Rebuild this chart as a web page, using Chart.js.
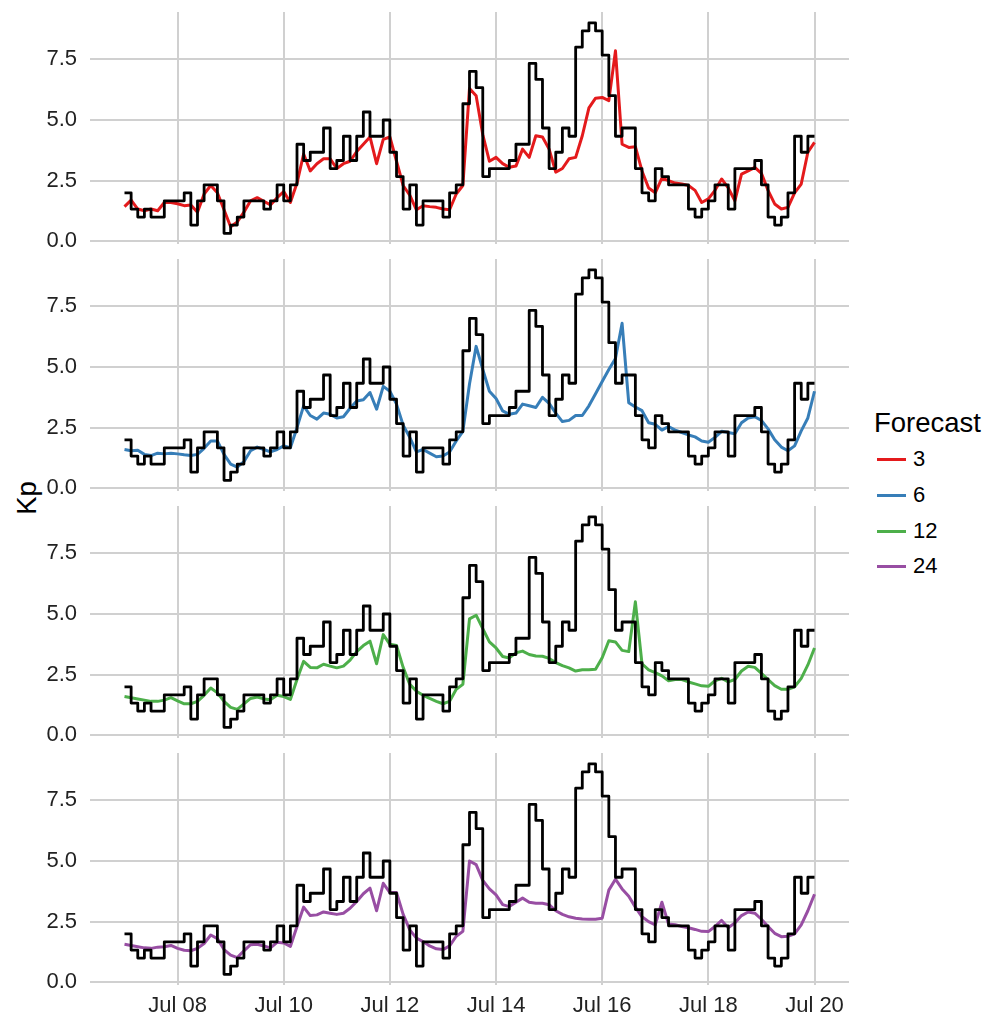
<!DOCTYPE html>
<html>
<head>
<meta charset="utf-8">
<title>Kp forecasts</title>
<script src="https://cdn.jsdelivr.net/npm/chart.js@4.4.0/dist/chart.umd.min.js"></script>
<style>
    body { margin: 0; background: #fff; font-family: 'Liberation Sans', Helvetica, Arial, sans-serif; }
    #page { position: relative; width: 990px; height: 1018px; overflow: hidden; }
    #page canvas { position: absolute; left: 0; }
    #ytitle {
        position: absolute; left: 27px; top: 498px;
        font-size: 27.5px; line-height: 1; color: #000;
        transform: translate(-50%, -50%) rotate(-90deg);
        white-space: nowrap;
    }
    #legend { position: absolute; left: 874px; top: 0; }
    .legend-title { position: absolute; left: 0; top: 409px; font-size: 27.5px; line-height: 1; white-space: nowrap; }
    .legend-key { position: absolute; left: 3px; width: 29px; height: 3px; }
    .legend-label { position: absolute; left: 39px; font-size: 22px; line-height: 1; white-space: nowrap; }
</style>
</head>
<body>
<div id="page">
    <div id="ytitle">Kp</div>
    <div id="legend"><div class="legend-title">Forecast</div></div>
</div>
<script>
// Observed Kp, 3-hourly from Jul 07 00:00
const observedKp = [
    2.0, 1.33, 1.0, 1.33, 1.0, 1.0, 1.67, 1.67, 1.67, 2.0,
    0.67, 1.67, 2.33, 2.33, 1.67, 0.33, 0.67, 1.0, 1.67, 1.67,
    1.67, 1.33, 1.67, 2.33, 1.67, 2.33, 4.0, 3.33, 3.67, 3.67,
    4.67, 3.0, 3.33, 4.33, 3.33, 4.33, 5.33, 4.33, 4.33, 5.0,
    3.67, 2.67, 1.33, 2.33, 0.67, 1.67, 1.67, 1.67, 1.0, 2.0,
    2.33, 5.67, 7.0, 6.33, 2.67, 3.0, 3.0, 3.0, 3.33, 4.0,
    4.0, 7.33, 6.67, 4.67, 3.0, 3.67, 4.67, 4.33, 8.0, 8.67,
    9.0, 8.67, 7.67, 6.0, 4.33, 4.67, 4.67, 3.0, 2.0, 1.67,
    3.0, 2.67, 2.33, 2.33, 2.33, 1.33, 1.0, 1.33, 1.67, 2.33,
    2.33, 1.33, 3.0, 3.0, 3.0, 3.33, 2.33, 1.0, 0.67, 1.0,
    2.0, 4.33, 3.67, 4.33
];

// Forecasts (3, 6, 12, 24 h ahead), sampled every 3 hours
const forecast3 = [
    1.43, 1.7, 1.33, 1.26, 1.33, 1.26, 1.6, 1.6, 1.55, 1.47,
    1.5, 1.2, 1.95, 2.3, 2.0, 1.3, 0.6, 0.8, 1.2, 1.67,
    1.8, 1.65, 1.5, 1.8, 2.05, 1.6, 2.4, 3.6, 2.9, 3.2,
    3.4, 3.4, 3.0, 3.2, 3.3, 3.7, 4.0, 4.3, 3.2, 4.2,
    4.3, 3.3, 2.3, 1.9, 1.3, 1.47, 1.43, 1.4, 1.33, 1.3,
    1.95, 2.3, 6.3, 6.0, 4.4, 3.3, 3.46, 3.2, 3.05, 3.1,
    3.8, 3.46, 4.35, 4.3, 3.8, 2.85, 3.0, 3.4, 3.46, 4.35,
    5.5, 5.9, 5.93, 5.8, 7.85, 4.0, 3.87, 3.9, 2.9, 2.2,
    2.0, 2.6, 2.5, 2.4, 2.36, 2.3, 2.1, 1.6, 1.75, 2.1,
    2.57, 2.2, 1.67, 2.77, 2.9, 3.05, 2.8, 2.1, 1.54, 1.33,
    1.4, 2.0, 2.36, 3.67, 4.08
];
const forecast6 = [
    1.6, 1.55, 1.57, 1.4, 1.35, 1.45, 1.42, 1.45, 1.42, 1.38,
    1.35, 1.4, 1.65, 1.95, 1.95, 1.4, 1.0, 0.87, 1.1, 1.55,
    1.7, 1.6, 1.5, 1.6, 1.75, 1.67, 2.5, 3.4, 3.0, 2.85,
    3.1, 3.05, 2.9, 2.95, 3.3, 3.6, 3.65, 3.95, 3.26, 4.2,
    4.0, 3.47, 2.6, 2.1, 1.5, 1.6, 1.45, 1.3, 1.33, 1.5,
    1.95, 2.35, 4.3, 5.85, 4.9, 4.0, 3.7, 3.19, 3.05, 3.1,
    3.47, 3.4, 3.33, 3.75, 3.5, 3.1, 2.75, 2.8, 3.0, 3.0,
    3.4, 3.9, 4.4, 4.9, 5.35, 6.8, 3.53, 3.35, 3.2, 2.7,
    2.64, 2.4, 2.55, 2.4, 2.3, 2.2, 2.12, 1.95, 1.9, 2.1,
    2.35, 2.3, 2.25, 2.7, 2.9, 2.95, 2.8, 2.45, 2.0, 1.7,
    1.55, 1.75, 2.37, 2.9, 4.0
];
const forecast12 = [
    1.6, 1.55, 1.5, 1.45, 1.4, 1.4, 1.45, 1.55, 1.42, 1.3,
    1.3, 1.4, 1.65, 1.95, 1.75, 1.4, 1.15, 1.07, 1.3, 1.52,
    1.58, 1.5, 1.47, 1.65, 1.6, 1.48, 2.3, 3.05, 2.8, 2.78,
    2.93, 2.85, 2.78, 2.85, 3.1, 3.45, 3.7, 3.88, 2.95, 4.15,
    3.75, 3.7, 2.8, 2.1, 1.82, 1.65, 1.52, 1.4, 1.3, 1.4,
    1.9, 2.1, 4.8, 4.95, 4.4, 3.85, 3.6, 3.25, 3.19, 3.4,
    3.47, 3.33, 3.27, 3.26, 3.17, 3.0, 2.87, 2.78, 2.65, 2.7,
    2.7, 2.72, 3.2, 3.9, 3.85, 3.5, 3.45, 5.5, 2.95, 2.7,
    2.58, 2.45, 2.25, 2.3, 2.3, 2.2, 2.12, 2.04, 2.02, 2.25,
    2.35, 2.2, 2.3, 2.65, 2.85, 2.8, 2.55, 2.3, 2.05, 1.9,
    1.9, 2.0, 2.35, 2.9, 3.6
];
const forecast24 = [
    1.57, 1.52, 1.47, 1.42, 1.4, 1.45, 1.47, 1.52, 1.4, 1.32,
    1.3, 1.4, 1.6, 1.95, 1.8, 1.35, 1.12, 1.02, 1.3, 1.55,
    1.57, 1.5, 1.42, 1.65, 1.62, 1.48, 2.3, 3.1, 2.75, 2.78,
    2.9, 2.85, 2.8, 2.85, 3.05, 3.33, 3.65, 3.88, 2.95, 4.08,
    3.7, 3.7, 2.8, 2.16, 1.82, 1.68, 1.5, 1.38, 1.35, 1.5,
    1.9, 2.1, 5.0, 4.85, 4.2, 3.85, 3.6, 3.2, 3.12, 3.3,
    3.47, 3.3, 3.26, 3.26, 3.2, 2.95, 2.8, 2.7, 2.64, 2.61,
    2.6, 2.6, 2.64, 3.8, 4.25, 3.85, 3.55, 3.1, 2.7, 2.5,
    2.37, 3.3, 2.4, 2.37, 2.3, 2.25, 2.18, 2.1, 2.09, 2.3,
    2.55, 2.25, 2.45, 2.75, 2.9, 2.85, 2.6, 2.3, 2.02, 1.88,
    1.9, 2.0, 2.37, 2.95, 3.63
];

const forecastNames = ['3', '6', '12', '24'];
const forecastColors = ['#E41A1C', '#377EB8', '#4DAF4A', '#984EA3'];
const forecastSeries = [forecast3, forecast6, forecast12, forecast24];

// x axis is hours since Jul 07 00:00
const stepHours = 3;
const xTickHours = [24, 72, 120, 168, 216, 264, 312];
const xTickLabels = ['Jul 08', 'Jul 10', 'Jul 12', 'Jul 14', 'Jul 16', 'Jul 18', 'Jul 20'];
const yTicks = [0, 2.5, 5, 7.5];

const gridColor = '#d0d0d0';
const tickFont = { family: "'Liberation Sans', Helvetica, Arial, sans-serif", size: 22 };

function toPoints(values) {
    return values.map((v, i) => ({ x: i * stepHours, y: v }));
}

// step line: hold the last value to the end of its 3h interval
const observedPoints = toPoints(observedKp);
observedPoints.push({ x: observedKp.length * stepHours, y: observedKp[observedKp.length - 1] });

const page = document.getElementById('page');

forecastSeries.forEach((series, i) => {
    const isLast = i === forecastSeries.length - 1;
    const canvas = document.createElement('canvas');
    canvas.width = 990;
    canvas.height = isLast ? 277 : 267;
    canvas.style.top = (i * 247) + 'px';
    page.appendChild(canvas);

    new Chart(canvas, {
        type: 'line',
        data: {
            datasets: [
                {
                    label: 'Observed',
                    data: observedPoints,
                    borderColor: '#000',
                    borderWidth: 2.8,
                    borderJoinStyle: 'round',
                    pointRadius: 0,
                    stepped: true,
                    order: 0
                },
                {
                    label: forecastNames[i],
                    data: toPoints(series),
                    borderColor: forecastColors[i],
                    borderWidth: 3,
                    borderJoinStyle: 'round',
                    pointRadius: 0,
                    tension: 0,
                    order: 1
                }
            ]
        },
        options: {
            responsive: false,
            animation: false,
            devicePixelRatio: 1,
            layout: { padding: { top: 12, left: 0, right: 141, bottom: isLast ? 0 : 23 } },
            plugins: {
                legend: { display: false },
                tooltip: { enabled: false }
            },
            scales: {
                x: {
                    type: 'linear',
                    min: -15.6,
                    max: 327.6,
                    afterBuildTicks: (scale) => {
                        scale.ticks = xTickHours.map(v => ({ value: v }));
                    },
                    afterFit: (scale) => {
                        scale.height = isLast ? 33 : 0;
                        scale.paddingLeft = 0;
                        scale.paddingRight = 0;
                    },
                    grid: { color: gridColor, lineWidth: 2, drawTicks: false },
                    border: { display: false },
                    ticks: {
                        display: isLast,
                        autoSkip: false,
                        maxRotation: 0,
                        padding: 8,
                        color: '#222',
                        font: tickFont,
                        callback: (value, index) => xTickLabels[index]
                    }
                },
                y: {
                    min: -0.11,
                    max: 9.45,
                    afterBuildTicks: (scale) => {
                        scale.ticks = yTicks.map(v => ({ value: v }));
                    },
                    afterFit: (scale) => {
                        scale.width = 90;
                        scale.paddingTop = 0;
                        scale.paddingBottom = 0;
                    },
                    grid: { color: gridColor, lineWidth: 2, drawTicks: false },
                    border: { display: false },
                    ticks: {
                        padding: 13,
                        color: '#222',
                        font: tickFont,
                        callback: (value) => value.toFixed(1)
                    }
                }
            }
        }
    });
});

// legend
const legend = document.getElementById('legend');
const keyCentres = [459, 495, 531, 566];
forecastNames.forEach((name, i) => {
    const key = document.createElement('div');
    key.className = 'legend-key';
    key.style.background = forecastColors[i];
    key.style.top = (keyCentres[i] - 1.5) + 'px';
    legend.appendChild(key);

    const label = document.createElement('div');
    label.className = 'legend-label';
    label.textContent = name;
    label.style.top = (keyCentres[i] - 10.7) + 'px';
    legend.appendChild(label);
});
</script>
</body>
</html>
